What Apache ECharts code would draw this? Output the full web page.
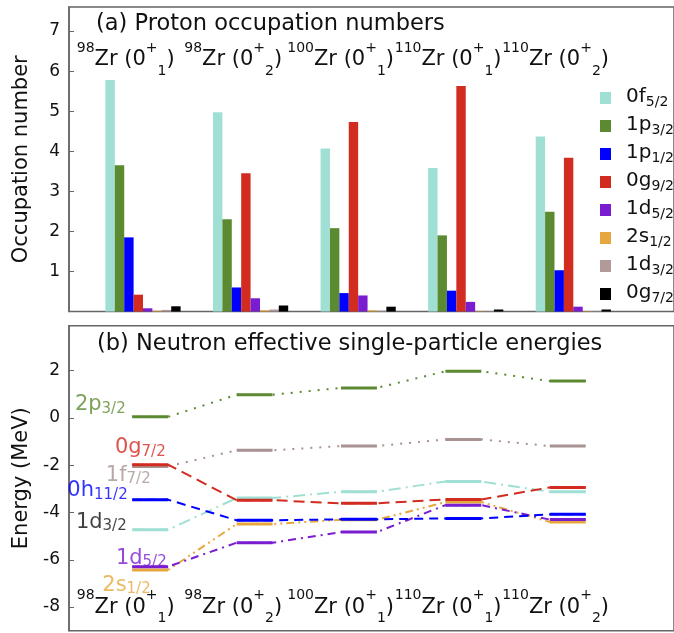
<!DOCTYPE html>
<html><head><meta charset="utf-8">
<script src="https://cdn.jsdelivr.net/npm/echarts@6/dist/echarts.min.js"></script>
<style>html,body{margin:0;padding:0;background:#fff}#c{width:674px;height:633px}</style>
</head><body><div id="c"></div>
<script>
// ---------- data ----------
const categoryMass  = ['98', '98', '100', '110', '110'];
const categoryState = ['1', '2', '1', '1', '2'];

const protonOrbitals = ['0f5/2','1p3/2','1p1/2','0g9/2','1d5/2','2s1/2','1d3/2','0g7/2'];
const occ0f52 = [5.78, 4.97, 4.07, 3.58, 4.37];
const occ1p32 = [3.65, 2.30, 2.08, 1.90, 2.49];
const occ1p12 = [1.85, 0.60, 0.46, 0.52, 1.03];
const occ0g92 = [0.42, 3.45, 4.73, 5.63, 3.84];
const occ1d52 = [0.08, 0.33, 0.40, 0.24, 0.12];
const occ2s12 = [0.02, 0.03, 0.03, 0.01, 0.01];
const occ1d32 = [0.04, 0.05, 0.02, 0.01, 0.01];
const occ0g72 = [0.13, 0.15, 0.12, 0.05, 0.05];

const neutronOrbitals = ['2p3/2','0g7/2','1f7/2','0h11/2','1d3/2','1d5/2','2s1/2'];
const e2p32  = [0.05, 0.98, 1.27, 1.97, 1.56];
const e0g72  = [-1.98, -3.48, -3.61, -3.45, -2.94];
const e1f72  = [-2.05, -1.37, -1.19, -0.91, -1.19];
const e0h112 = [-3.46, -4.33, -4.29, -4.25, -4.08];
const e1d32  = [-4.73, -3.39, -3.12, -2.69, -3.12];
const e1d52  = [-6.29, -5.28, -4.83, -3.69, -4.30];
const e2s12  = [-6.43, -4.49, -4.31, -3.56, -4.40];

const occTicks = [1, 2, 3, 4, 5, 6, 7];
const energyTicks = [-8, -6, -4, -2, 0, 2];

// ---------- styles ----------
const FONT = 'DejaVu Sans';
const protonValues = [occ0f52, occ1p32, occ1p12, occ0g92, occ1d52, occ2s12, occ1d32, occ0g72];
const protonColors = ['#a0e0d4', '#5b8a30', '#0000ff', '#d22b20', '#7a1dd0', '#e6a83e', '#b39a9a', '#000000'];

const neutronValues = [e2p32, e0g72, e1f72, e0h112, e1d32, e1d52, e2s12];
const neutronLineColors  = ['#5b8a30', '#d22b20', '#a89292', '#0000ff', '#a0e0d4', '#7a1dd0', '#e6a83e'];
const neutronLabelColors = ['#5b8a30', '#d22b20', '#a89292', '#0000ff', '#111111', '#7a1dd0', '#e6a83e'];
const neutronDash = [[2, 7], [11, 6], [2, 7], [9, 6], [12, 5, 2, 5], [8, 5, 2, 5], [8, 4, 2, 4, 2, 4]];
const drawOrder = [2, 4, 6, 5, 0, 1, 3];
const labelDx = [-24, 16, 1, -22, -23, 17, 1];
const labelDy = [-11, -16, 10, -8, -6.5, -7.5, 16.5];
const segHalf = 0.172;

function splitOrb(n) { const m = n.match(/^(\d[a-z])(.+)$/); return [m[1], m[2]]; }

const catRich = {
  sup: {fontSize: 14, lineHeight: 14, verticalAlign: 'top', fontFamily: FONT, color: '#111'},
  m:   {fontSize: 21, lineHeight: 37, verticalAlign: 'middle', fontFamily: FONT, color: '#111'},
  sub: {fontSize: 14, lineHeight: 14, verticalAlign: 'bottom', fontFamily: FONT, color: '#111'}
};
function catLabel(v) {
  const i = Math.round(v);
  if (Math.abs(v - i) > 1e-6 || i < 0 || i >= categoryMass.length) return '';
  return '{sup|' + categoryMass[i] + '}{m|Zr (0}{sup|+}{sub|' + categoryState[i] + '}{m|)}';
}

const frame = {show: true, borderColor: '#666', borderWidth: 1.5, backgroundColor: 'transparent'};

// ---------- series ----------
const series = [];
protonOrbitals.forEach((nm, k) => {
  series.push({
    type: 'bar', name: nm, xAxisIndex: 0, yAxisIndex: 0,
    barWidth: 9.4, barGap: '0%',
    itemStyle: {color: protonColors[k]},
    data: protonValues[k].map((v, i) => [i, v])
  });
});

// connectors (dashed) first
drawOrder.forEach(k => {
  const pts = [];
  neutronValues[k].forEach((v, i) => { pts.push([i - segHalf, v]); pts.push([i + segHalf, v]); });
  series.push({
    type: 'line', name: 'n-' + neutronOrbitals[k] + '-link', xAxisIndex: 2, yAxisIndex: 1,
    symbol: 'none', silent: true,
    lineStyle: {color: neutronLineColors[k], width: 2, type: neutronDash[k]},
    data: pts
  });
});
// level segments (solid)
drawOrder.forEach(k => {
  const pts = [];
  neutronValues[k].forEach((v, i) => {
    pts.push([i - segHalf, v]); pts.push([i + segHalf, v]); pts.push([i + 0.5, '-']);
  });
  series.push({
    type: 'line', name: 'n-' + neutronOrbitals[k], xAxisIndex: 2, yAxisIndex: 1,
    symbol: 'none', silent: true, connectNulls: false,
    lineStyle: {color: neutronLineColors[k], width: 3, type: 'solid'},
    data: pts
  });
});
// level labels
series.push({
  type: 'scatter', name: 'level-labels', xAxisIndex: 2, yAxisIndex: 1,
  symbolSize: 1, silent: true, z: 10,
  itemStyle: {color: 'rgba(0,0,0,0)'},
  data: neutronOrbitals.map((nm, k) => {
    const [a, b] = splitOrb(nm);
    const c = neutronLabelColors[k];
    return {
      value: [0, neutronValues[k][0]],
      label: {
        show: true, position: [labelDx[k], labelDy[k]], align: 'right', verticalAlign: 'middle',
        formatter: '{m|' + a + '}{s|' + b + '}',
        rich: {
          m: {fontSize: 21, lineHeight: 22, verticalAlign: 'top', fontFamily: FONT, color: c},
          s: {fontSize: 15, lineHeight: 15, verticalAlign: 'bottom', padding: [14, 0, 0, 0], fontFamily: FONT, color: c}
        }
      }
    };
  })
});

const option = {
  animation: false,
  backgroundColor: '#fff',
  textStyle: {fontFamily: FONT},
  title: [
    {text: '(a) Proton occupation numbers', left: 96, top: 11, padding: 0,
     textStyle: {fontFamily: FONT, fontSize: 22.5, fontWeight: 'normal', color: '#111', lineHeight: 26}},
    {text: '(b) Neutron effective single-particle energies', left: 97, top: 331, padding: 0,
     textStyle: {fontFamily: FONT, fontSize: 22.5, fontWeight: 'normal', color: '#111', lineHeight: 26}}
  ],
  legend: {
    orient: 'vertical', left: 600, top: 81, padding: 0, itemWidth: 11, itemHeight: 12, itemGap: 0,
    icon: 'rect', selectedMode: false, data: protonOrbitals,
    formatter: n => { const [a, b] = splitOrb(n); return '{m|' + a + '}{s|' + b + '}'; },
    textStyle: {
      fontFamily: FONT, color: '#111',
      rich: {
        m: {fontSize: 20, lineHeight: 22, verticalAlign: 'top', padding: [0, 0, 0, 10], fontFamily: FONT, color: '#111'},
        s: {fontSize: 14, lineHeight: 14, verticalAlign: 'bottom', padding: [14, 0, 0, 0], fontFamily: FONT, color: '#111'}
      }
    }
  },
  grid: [
    Object.assign({left: 69, top: 7, right: -3, height: 304.5}, frame),
    Object.assign({left: 69, top: 325.7, right: -3, height: 305}, frame)
  ],
  xAxis: [
    {type: 'value', gridIndex: 0, min: -0.688, max: 4.936, show: false},
    {type: 'value', gridIndex: 0, position: 'top', min: -0.528, max: 5.102,
     axisLine: {show: false}, axisTick: {show: false}, splitLine: {show: false},
     axisLabel: {inside: true, margin: 34, customValues: [0, 1, 2, 3, 4], formatter: catLabel, rich: catRich}},
    {type: 'value', gridIndex: 1, min: -0.778, max: 5.018, show: false},
    {type: 'value', gridIndex: 1, position: 'bottom', min: -0.528, max: 5.102,
     axisLine: {show: false}, axisTick: {show: false}, splitLine: {show: false},
     axisLabel: {inside: true, margin: 5, customValues: [0, 1, 2, 3, 4], formatter: catLabel, rich: catRich}}
  ],
  yAxis: [
    {type: 'value', gridIndex: 0, min: 0, max: 7.6,
     name: 'Occupation number', nameLocation: 'middle', nameGap: 37,
     nameTextStyle: {fontFamily: FONT, fontSize: 21, color: '#111'},
     axisLine: {show: true, onZero: false, lineStyle: {color: '#666', width: 1.5}},
     axisTick: {show: true, inside: true, length: 5, customValues: occTicks, lineStyle: {color: '#666'}},
     axisLabel: {customValues: occTicks, margin: 9, fontFamily: FONT, fontSize: 17, color: '#111'},
     splitLine: {show: false}},
    {type: 'value', gridIndex: 1, min: -9, max: 3.9,
     name: 'Energy (MeV)', nameLocation: 'middle', nameGap: 37,
     nameTextStyle: {fontFamily: FONT, fontSize: 21, color: '#111'},
     axisLine: {show: true, onZero: false, lineStyle: {color: '#666', width: 1.5}},
     axisTick: {show: true, inside: true, length: 5, customValues: energyTicks, lineStyle: {color: '#666'}},
     axisLabel: {customValues: energyTicks, margin: 9, fontFamily: FONT, fontSize: 17, color: '#111'},
     splitLine: {show: false}}
  ],
  series: series
};

const chart = echarts.init(document.getElementById('c'));
chart.setOption(option);
</script>
</body></html>
